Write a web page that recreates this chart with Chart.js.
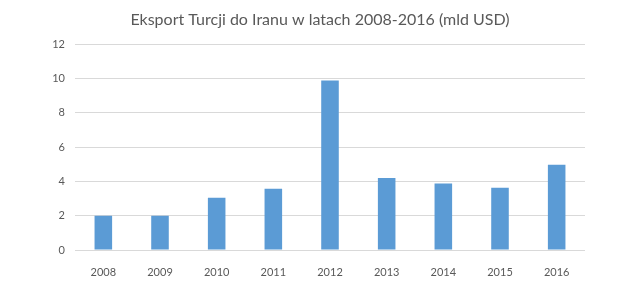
<!DOCTYPE html>
<html>
<head>
<meta charset="utf-8">
<script src="https://cdn.jsdelivr.net/npm/chart.js@4/dist/chart.umd.min.js"></script>
<style>
  html, body { margin: 0; padding: 0; background: #fff; }
  #wrap { width: 640px; height: 284px; }
</style>
</head>
<body>
<div id="wrap"><canvas id="chart"></canvas></div>
<script>
// Data
const years = ["2008", "2009", "2010", "2011", "2012", "2013", "2014", "2015", "2016"];
const exportValues = [2.0, 2.0, 3.05, 3.57, 9.88, 4.2, 3.88, 3.63, 4.97];
const yTicks = [0, 2, 4, 6, 8, 10, 12];

const textColor = "#595959";
const fontFamily = "Lato, 'Liberation Sans', sans-serif";

const ctx = document.getElementById("chart").getContext("2d");
new Chart(ctx, {
  type: "bar",
  data: {
    labels: years,
    datasets: [
      {
        label: "Eksport",
        data: exportValues,
        backgroundColor: "#5B9BD5",
        borderWidth: 0,
        categoryPercentage: 1,
        barPercentage: 0.31,
      },
    ],
  },
  options: {
    responsive: true,
    maintainAspectRatio: false,
    animation: false,
    layout: { padding: 0 },
    plugins: {
      legend: { display: false },
      tooltip: { enabled: false },
      title: {
        display: true,
        text: "Eksport Turcji do Iranu w latach 2008-2016 (mld USD)",
        color: textColor,
        font: { family: fontFamily, size: 16, weight: "normal" },
        padding: { top: 10, bottom: 15 },
      },
    },
    scales: {
      x: {
        grid: { display: false },
        border: { display: false },
        ticks: {
          color: textColor,
          font: { family: fontFamily, size: 11 },
          padding: 8,
        },
        afterFit: (scale) => { scale.height = 34; },
      },
      y: {
        min: yTicks[0],
        max: yTicks[yTicks.length - 1],
        grid: { color: "#D9D9D9", lineWidth: 1, drawTicks: false },
        border: { display: false },
        afterBuildTicks: (scale) => {
          scale.ticks = yTicks.map((v) => ({ value: v }));
        },
        ticks: {
          color: textColor,
          font: { family: fontFamily, size: 11 },
          padding: 10,
        },
        afterFit: (scale) => { scale.width = 75; },
      },
      // empty right-hand spacer so the plot ends where the reference does
      yRight: {
        position: "right",
        grid: { display: false },
        border: { display: false },
        ticks: { display: false },
        afterFit: (scale) => { scale.width = 55; },
      },
    },
  },
});
</script>
</body>
</html>
